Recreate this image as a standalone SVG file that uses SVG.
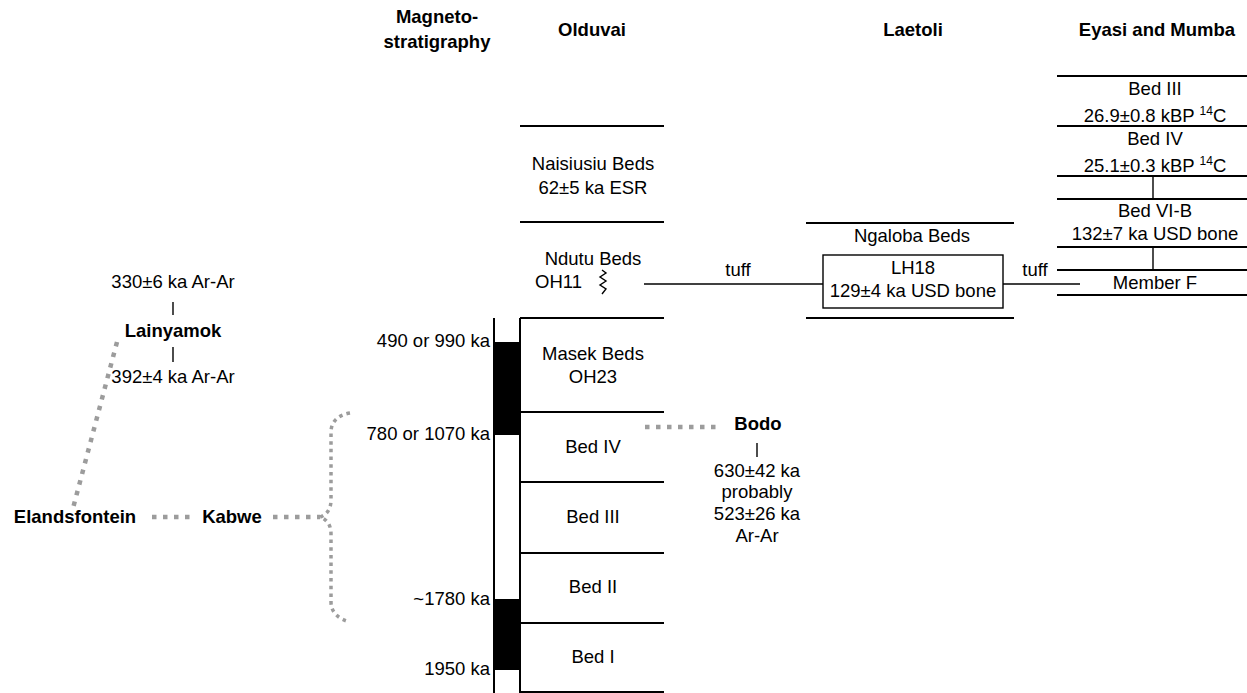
<svg xmlns="http://www.w3.org/2000/svg" width="1247" height="693" viewBox="0 0 1247 693">
<style>
text{font-family:"Liberation Sans",Arial,sans-serif;font-size:18.5px;fill:#000}
.c{text-anchor:middle}
.r{text-anchor:end}
.b{font-weight:bold}
.bed{stroke:#000;stroke-width:2;fill:none}
.thin{stroke:#000;stroke-width:1.4;fill:none}
.dot{stroke:#9c9c9c;stroke-width:4.5;fill:none;stroke-dasharray:4.5 6.5}
.dot2{stroke:#9c9c9c;stroke-width:3.5;fill:none;stroke-dasharray:3.5 4.2}
.sup{font-size:12px}
</style>
<rect width="1247" height="693" fill="#fff"/>

<g id="headers">
<text class="c b" x="437" y="23">Magneto-</text>
<text class="c b" x="437" y="48">stratigraphy</text>
<text class="c b" x="592" y="36">Olduvai</text>
<text class="c b" x="913" y="36">Laetoli</text>
<text class="c b" x="1157" y="36">Eyasi and Mumba</text>
</g>

<g id="magnetostratigraphy">
<line class="bed" x1="494" y1="318" x2="494" y2="693"/>
<line class="bed" x1="520" y1="318" x2="520" y2="693"/>
<rect x="494" y="342" width="26" height="93" fill="#000"/>
<rect x="494" y="599" width="26" height="71" fill="#000"/>
<text class="r" x="490" y="347">490 or 990 ka</text>
<text class="r" x="490" y="440">780 or 1070 ka</text>
<text class="r" x="490" y="605">~1780 ka</text>
<text class="r" x="490" y="675">1950 ka</text>
</g>

<g id="olduvai">
<line class="bed" x1="520" y1="126" x2="664" y2="126"/>
<line class="bed" x1="520" y1="222" x2="664" y2="222"/>
<line class="bed" x1="520" y1="318" x2="664" y2="318"/>
<line class="bed" x1="520" y1="412" x2="664" y2="412"/>
<line class="bed" x1="520" y1="482" x2="664" y2="482"/>
<line class="bed" x1="520" y1="553" x2="664" y2="553"/>
<line class="bed" x1="520" y1="623" x2="664" y2="623"/>
<line class="bed" x1="520" y1="692" x2="664" y2="692"/>
<text class="c" x="593" y="170">Naisiusiu Beds</text>
<text class="c" x="593" y="194">62±5 ka ESR</text>
<text class="c" x="593" y="265">Ndutu Beds</text>
<text x="535" y="288">OH11</text>
<path class="thin" d="M602,270 L606,273 L600,277 L606,281 L600,285 L606,289 L602,294"/>
<text class="c" x="593" y="360">Masek Beds</text>
<text class="c" x="593" y="383">OH23</text>
<text class="c" x="593" y="453">Bed IV</text>
<text class="c" x="593" y="523">Bed III</text>
<text class="c" x="593" y="593">Bed II</text>
<text class="c" x="593" y="663">Bed I</text>
</g>

<g id="laetoli">
<line class="bed" x1="806" y1="223" x2="1014" y2="223"/>
<line class="bed" x1="806" y1="318" x2="1014" y2="318"/>
<text class="c" x="912" y="242">Ngaloba Beds</text>
<rect x="823" y="255" width="180" height="53" fill="#fff" stroke="#000" stroke-width="1.4"/>
<text class="c" x="913" y="274">LH18</text>
<text class="c" x="913" y="297">129±4 ka USD bone</text>
</g>

<g id="eyasi">
<line class="bed" x1="1057" y1="76" x2="1247" y2="76"/>
<line class="bed" x1="1057" y1="126" x2="1247" y2="126"/>
<line class="bed" x1="1057" y1="176" x2="1247" y2="176"/>
<line class="bed" x1="1057" y1="199" x2="1247" y2="199"/>
<line class="bed" x1="1057" y1="247" x2="1247" y2="247"/>
<line class="bed" x1="1057" y1="270" x2="1247" y2="270"/>
<line class="bed" x1="1057" y1="295" x2="1247" y2="295"/>
<line class="thin" x1="1153" y1="176" x2="1153" y2="199"/>
<line class="thin" x1="1153" y1="247" x2="1153" y2="270"/>
<text class="c" x="1155" y="95">Bed III</text>
<text class="c" x="1155" y="122">26.9±0.8 kBP <tspan class="sup" dy="-7">14</tspan><tspan dy="7">C</tspan></text>
<text class="c" x="1155" y="145">Bed IV</text>
<text class="c" x="1155" y="172">25.1±0.3 kBP <tspan class="sup" dy="-7">14</tspan><tspan dy="7">C</tspan></text>
<text class="c" x="1155" y="217">Bed VI-B</text>
<text class="c" x="1155" y="240">132±7 ka USD bone</text>
<text class="c" x="1155" y="289">Member F</text>
</g>

<g id="lainyamok">
<text class="c" x="173" y="288">330±6 ka Ar-Ar</text>
<text class="c b" x="173" y="337">Lainyamok</text>
<text class="c" x="173" y="383">392±4 ka Ar-Ar</text>
</g>
<g id="elandsfontein"><text class="c b" x="75" y="523">Elandsfontein</text></g>
<g id="kabwe"><text class="c b" x="232" y="523">Kabwe</text></g>
<g id="bodo">
<text class="c b" x="758" y="430">Bodo</text>
<text class="c" x="757" y="477">630±42 ka</text>
<text class="c" x="757" y="498">probably</text>
<text class="c" x="757" y="520">523±26 ka</text>
<text class="c" x="757" y="542">Ar-Ar</text>
</g>

<g id="connectors">
<line class="thin" x1="644" y1="284" x2="823" y2="284"/>
<text class="c" x="738" y="276">tuff</text>
<line class="thin" x1="1003" y1="284" x2="1080" y2="284"/>
<text class="c" x="1035" y="276">tuff</text>
<line class="thin" x1="173" y1="302" x2="173" y2="315"/>
<line class="thin" x1="173" y1="347" x2="173" y2="362"/>
<line class="thin" x1="757" y1="443" x2="757" y2="457"/>
<line class="dot" x1="117" y1="342" x2="72" y2="512"/>
<line class="dot" x1="152" y1="517" x2="192" y2="517"/>
<line class="dot" x1="273" y1="517" x2="320" y2="517"/>
<line class="dot" x1="645" y1="427" x2="720" y2="427"/>
<path class="dot2" d="M350,413 C338,415 331,422 331,432 L331,500 C331,510 326,515 320,517 C326,519 331,524 331,534 L331,602 C331,612 338,619 350,622"/>
</g>
</svg>
